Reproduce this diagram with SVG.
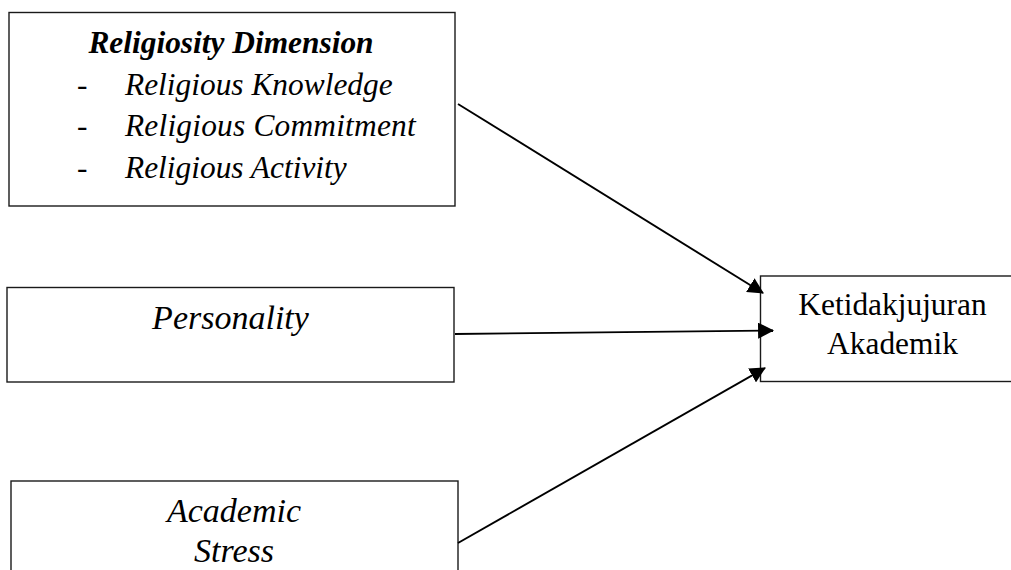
<svg xmlns="http://www.w3.org/2000/svg" width="1011" height="570" viewBox="0 0 1011 570">
<defs>
<style>
.box{fill:#fff;stroke:#1a1a1a;stroke-width:1.4}
.t{font-family:"Liberation Serif","Times New Roman",serif;font-size:31.4px;fill:#000}
.lg{font-size:34px}
.it{font-style:italic}
.b{font-weight:bold}
.c{text-anchor:middle}
.conn{stroke:#000;stroke-width:1.9;fill:none;marker-end:url(#ah)}
</style>
<marker id="ah" markerUnits="userSpaceOnUse" markerWidth="16" markerHeight="16" viewBox="0 0 15 15" refX="14" refY="7.5" orient="auto">
<path d="M0,0 L15,7.5 L0,15 Z" fill="#000"/>
</marker>
</defs>
<rect width="1011" height="570" fill="#fff"/>
<g id="religiosity">
<rect class="box" x="9" y="12.5" width="446" height="193.5"/>
<text class="t it b c" x="231" y="53">Religiosity Dimension</text>
<text class="t" x="77" y="94.5">-</text>
<text class="t it" x="125" y="94.5">Religious Knowledge</text>
<text class="t" x="77" y="136">-</text>
<text class="t it" x="125" y="136" letter-spacing="0.2">Religious Commitment</text>
<text class="t" x="77" y="177.5">-</text>
<text class="t it" x="125" y="177.5">Religious Activity</text>
</g>
<g id="personality">
<rect class="box" x="7" y="287.5" width="447" height="94.5"/>
<text class="t lg it c" x="230.5" y="329">Personality</text>
</g>
<g id="academic-stress">
<rect class="box" x="11" y="481" width="447" height="110"/>
<text class="t lg it c" x="234" y="521.5">Academic</text>
<text class="t lg it c" x="234" y="561.5">Stress</text>
</g>
<g id="ketidakjujuran">
<rect class="box" x="760.5" y="276" width="270" height="105.5"/>
<text class="t c" x="892.5" y="314.5">Ketidakjujuran</text>
<text class="t c" x="892.5" y="353.5">Akademik</text>
</g>
<g id="connectors">
<line class="conn" x1="458" y1="104" x2="763" y2="293"/>
<line class="conn" x1="455" y1="334" x2="773" y2="330.5"/>
<line class="conn" x1="458" y1="543" x2="765" y2="368"/>
</g>
</svg>
